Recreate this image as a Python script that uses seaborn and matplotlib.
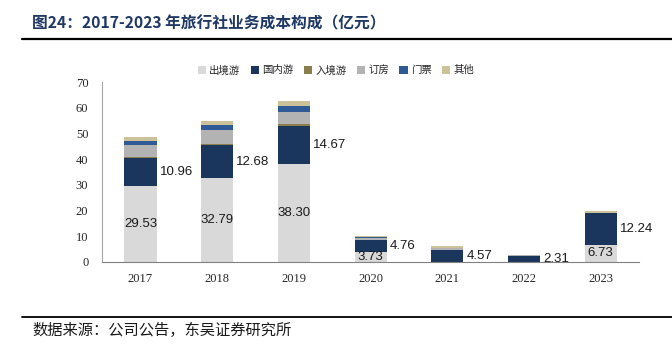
import numpy as np
import pandas as pd
import seaborn as sns
import matplotlib.pyplot as plt
from matplotlib.patches import Patch

years = ["2017", "2018", "2019", "2020", "2021", "2022", "2023"]
outbound = [29.53, 32.79, 38.30, 3.73, 0.10, 0.05, 6.73]
domestic = [10.96, 12.68, 14.67, 4.76, 4.57, 2.31, 12.24]
inbound = [0.50, 0.60, 0.60, 0.10, 0.05, 0.02, 0.05]
booking = [4.40, 5.20, 5.00, 0.60, 0.55, 0.15, 0.15]
tickets = [1.60, 2.10, 2.30, 0.50, 0.30, 0.05, 0.05]
other = [1.50, 1.60, 1.70, 0.55, 0.55, 0.30, 0.65]

series_names = ["出境游", "国内游", "入境游", "订房", "门票", "其他"]
series_values = [outbound, domestic, inbound, booking, tickets, other]
colors = ["#D9D9D9", "#1B365D", "#8C7E4C", "#B3B3B3", "#2F5A96", "#CBC29A"]

sns.set_style("white")
plt.rcParams['font.family'] = ['Noto Sans CJK SC', 'DejaVu Sans']

fig = plt.figure(figsize=(6.72, 3.51), dpi=100)
ax = fig.add_axes([0.152, 0.2536, 0.799, 0.512])

# stacked bars: draw cumulative totals from the top layer down
cum = np.cumsum(np.array(series_values), axis=0)
for k in range(len(series_names) - 1, -1, -1):
    df = pd.DataFrame({"year": years, "value": cum[k]})
    sns.barplot(data=df, x="year", y="value", color=colors[k], width=0.42,
                saturation=1, linewidth=0, ax=ax)

# value labels (outbound inside, domestic to the right of the bar)
for i in range(len(years)):
    if outbound[i] > 1:
        ax.text(i, outbound[i] / 2, f"{outbound[i]:.2f}", ha="center", va="center",
                fontsize=9.5, family="Liberation Sans", color="#1a1a1a")
    ax.text(i + 0.25, outbound[i] + domestic[i] / 2, f"{domestic[i]:.2f}",
            ha="left", va="center", fontsize=9.5, family="Liberation Sans",
            color="#1a1a1a")

ax.set_ylim(0, 70)
ax.set_xlim(-0.5, 6.5)
ax.set_yticks(range(0, 71, 10))
ax.set_xlabel("")
ax.set_ylabel("")
ax.set_xticks(np.arange(-0.5, 7, 1), minor=True)
ax.tick_params(axis="x", which="major", length=0, pad=8)
ax.tick_params(axis="x", which="minor", direction="in", length=4, color="#808080")
ax.tick_params(axis="y", direction="in", length=4, color="#A6A6A6", pad=10)
for lab in ax.get_xticklabels() + ax.get_yticklabels():
    lab.set_family("Liberation Serif")
    lab.set_fontsize(9)
for s in ["top", "right"]:
    ax.spines[s].set_visible(False)
ax.spines["left"].set_color("#A6A6A6")
ax.spines["bottom"].set_color("#808080")

handles = [Patch(facecolor=c, edgecolor="none") for c in colors]
fig.legend(handles, series_names, loc="center", bbox_to_anchor=(0.5, 0.80),
           ncol=6, frameon=False, fontsize=7.5, handlelength=0.8,
           handleheight=0.8, handletextpad=0.3, columnspacing=1.0)

fig.text(0.048, 0.932, "图24：2017-2023 年旅行社业务成本构成（亿元）",
         fontsize=11.3, fontweight="bold", color="#1F3864", va="center")
fig.add_artist(plt.Line2D([0.033, 1.0], [0.889, 0.889], color="black", lw=1.6))
fig.add_artist(plt.Line2D([0.033, 1.0], [0.097, 0.097], color="black", lw=1.3))
fig.text(0.048, 0.058, "数据来源：公司公告，东吴证券研究所", fontsize=11,
         color="#1a1a1a", va="center")

plt.savefig("out.png", dpi=100)
